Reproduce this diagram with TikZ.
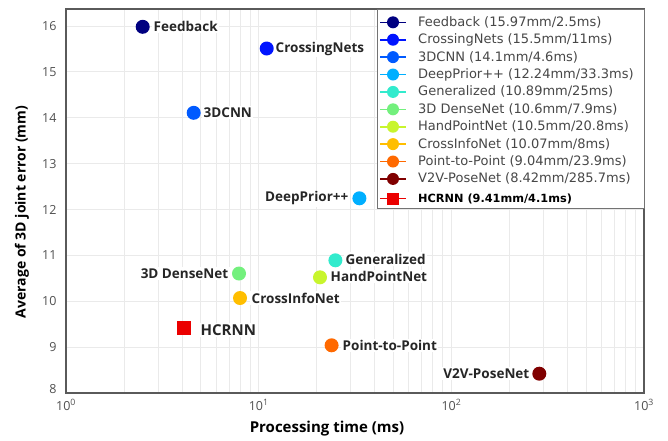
\documentclass[tikz,border=0pt]{standalone}
\usepackage{fontspec}
\setmainfont{Open Sans}
\newfontfamily\legfont{DejaVu Sans}
\begin{document}
\begin{tikzpicture}[x=1pt,y=-1pt]
\definecolor{cFeed}{RGB}{0,0,128}
\definecolor{cCross}{RGB}{0,20,255}
\definecolor{cCNN}{RGB}{0,90,255}
\definecolor{cDeep}{RGB}{0,175,255}
\definecolor{cGen}{RGB}{50,235,205}
\definecolor{cDense}{RGB}{115,240,125}
\definecolor{cHand}{RGB}{200,245,45}
\definecolor{cInfo}{RGB}{255,190,0}
\definecolor{cP2P}{RGB}{255,105,0}
\definecolor{cV2V}{RGB}{128,0,0}
\definecolor{cHC}{RGB}{235,0,0}
\definecolor{gridc}{RGB}{234,234,234}
\definecolor{framec}{RGB}{90,90,90}
\definecolor{tickc}{RGB}{80,80,80}
\tikzset{
  dot/.style={circle,fill=#1,minimum size=14pt,inner sep=0pt},
  sq/.style={rectangle,fill=#1,minimum size=14pt,inner sep=0pt},
  lab/.style={font=\fontsize{13.5}{15}\selectfont\bfseries,text=black!85,fill=white,inner sep=1.5pt},
  legtxt/.style={font=\legfont\fontsize{13}{14}\selectfont,text=black!72,anchor=west,inner sep=0pt},
  legdot/.style={circle,fill=#1,minimum size=12pt,inner sep=0pt},
  legline/.style={line width=1.6pt},
  tick/.style={font=\fontsize{12.5}{14}\selectfont,text=tickc},
  axlab/.style={font=\fontsize{15}{17}\selectfont\bfseries,text=black}
}
\useasboundingbox (0,0) rectangle (668,440);
% grid
\foreach \d in {0,1,2}{
  \foreach \k in {2,...,9}{
    \pgfmathsetmacro{\xx}{66+192.7*(\d+log10(\k))}
    \draw[gridc,line width=0.6pt] (\xx,9) -- (\xx,393);
  }
}
\foreach \xx in {258.7,451.4}{\draw[gridc,line width=0.9pt] (\xx,9) -- (\xx,393);}
\foreach \v in {9,...,16}{
  \pgfmathsetmacro{\yy}{393-45.875*(\v-8)}
  \draw[gridc,line width=0.9pt] (66,\yy) -- (644,\yy);
  \node[tick,anchor=east] (yt\v) at (60,\yy) {\v};
}
\node[tick,anchor=east] (yt8) at (60,389) {8};
% frame
\draw[framec,line width=1.3pt] (66,9) rectangle (644,393);
% x ticks
\node[tick] (xt0) at (66,405) {10\textsuperscript{0}};
\node[tick] (xt1) at (258.7,405) {10\textsuperscript{1}};
\node[tick] (xt2) at (451.4,405) {10\textsuperscript{2}};
\node[tick] (xt3) at (644,405) {10\textsuperscript{3}};
% axis labels
\node[axlab] (xlab) at (327,429) {Processing time (ms)};
\node[axlab,font=\fontsize{14}{16}\selectfont\bfseries,rotate=90] (ylab) at (22,212) {Average of 3D joint error (mm)};
% data points
\node[dot=cFeed] (pFeed) at (142.7,26.8) {};
\node[lab,anchor=west] (lFeed) at (152,26.8) {Feedback};
\node[dot=cCross] (pCross) at (266.7,48.5) {};
\node[lab,anchor=west] (lCross) at (274,48.5) {CrossingNets};
\node[dot=cCNN] (pCNN) at (193.7,112.8) {};
\node[lab,anchor=west] (lCNN) at (202,112.8) {3DCNN};
\node[dot=cDeep] (pDeep) at (359.4,198.3) {};
\node[lab,anchor=east] (lDeep) at (350,198.3) {DeepPrior++};
\node[dot=cGen] (pGen) at (335.4,260.3) {};
\node[lab,anchor=west] (lGen) at (344,259) {Generalized};
\node[dot=cDense] (pDense) at (239,273.5) {};
\node[lab,anchor=east] (lDense) at (230,273.5) {3D DenseNet};
\node[dot=cHand] (pHand) at (320,277.3) {};
\node[lab,anchor=west] (lHand) at (329,276.5) {HandPointNet};
\node[dot=cInfo] (pInfo) at (240,298) {};
\node[lab,anchor=west] (lInfo) at (250,298) {CrossInfoNet};
\node[dot=cP2P] (pP2P) at (331.6,345.3) {};
\node[lab,anchor=west] (lP2P) at (341,345.3) {Point-to-Point};
\node[dot=cV2V] (pV2V) at (539.3,373.7) {};
\node[lab,anchor=east] (lV2V) at (531,373.7) {V2V-PoseNet};
\node[sq=cHC] (pHC) at (183.5,328.3) {};
\node[lab,anchor=west,font=\fontsize{15}{17}\selectfont\bfseries] (lHC) at (199,330) {HCRNN};
% legend
\draw[black!55,fill=white,line width=0.8pt] (377,9) rectangle (644,208);
\foreach \n/\c/\t/\y in {
  1/cFeed/{Feedback (15.97mm/2.5ms)}/22.3,
  2/cCross/{CrossingNets (15.5mm/11ms)}/39.7,
  3/cCNN/{3DCNN (14.1mm/4.6ms)}/57.1,
  4/cDeep/{DeepPrior++ (12.24mm/33.3ms)}/74.5,
  5/cGen/{Generalized (10.89mm/25ms)}/91.9,
  6/cDense/{3D DenseNet (10.6mm/7.9ms)}/109.3,
  7/cHand/{HandPointNet (10.5mm/20.8ms)}/126.7,
  8/cInfo/{CrossInfoNet (10.07mm/8ms)}/144.1,
  9/cP2P/{Point-to-Point (9.04mm/23.9ms)}/161.5,
  10/cV2V/{V2V-PoseNet (8.42mm/285.7ms)}/178.9}{
  \coordinate (la\n) at (380,\y);
  \coordinate (lb\n) at (406,\y);
  \draw[legline,\c] (la\n) -- (lb\n);
  \node[legdot=\c] (lm\n) at (393,\y) {};
  \node[legtxt] (lt\n) at (418,\y) {\t};
}
\coordinate (la11) at (380,198.5);
\coordinate (lb11) at (406,198.5);
\draw[legline,cHC] (la11) -- (lb11);
\node[sq=cHC,minimum size=12pt] (lm11) at (393,198.5) {};
\node[legtxt,font=\legfont\fontsize{11.3}{13}\selectfont\bfseries,text=black] (lt11) at (418,199) {HCRNN (9.41mm/4.1ms)};
\end{tikzpicture}
\end{document}
